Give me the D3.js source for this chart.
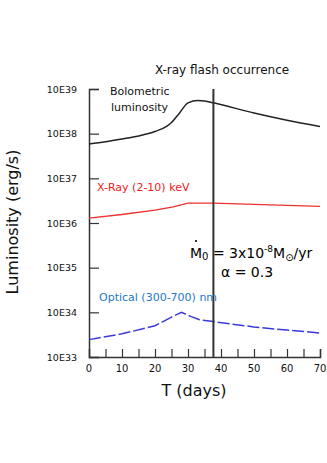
<!DOCTYPE html>
<html>
<head>
<meta charset="utf-8">
<script src="https://cdn.jsdelivr.net/npm/d3@7"></script>
<style>
  body { margin: 0; background: #fff; }
  svg text { font-family: "DejaVu Sans", sans-serif; }
</style>
</head>
<body>
<div id="chart"></div>
<script>
// days and luminosity (erg/s)
const bolDays = [0, 5, 10, 15, 20, 23.5, 25, 27.5, 30, 33, 35, 37.7, 50, 60, 70];
const bolLum = [5.9e37, 6.6e37, 7.6e37, 8.9e37, 1.12e38, 1.45e38, 1.78e38, 2.95e38, 4.9e38, 5.5e38, 5.4e38, 4.9e38, 2.9e38, 2.0e38, 1.45e38];

const xrayDays = [0, 10, 20, 25.5, 30, 37.7, 50, 70];
const xrayLum = [1.29e36, 1.55e36, 1.95e36, 2.3e36, 2.8e36, 2.8e36, 2.6e36, 2.35e36];

const optDays = [0, 10, 20, 25, 28, 31, 33.5, 37.7, 50, 60, 70];
const optLum = [2.45e33, 3.3e33, 5.0e33, 7.8e33, 1.0e34, 8.0e33, 6.8e33, 6.2e33, 4.7e33, 4.0e33, 3.45e33];

const flashDay = 37.7;
const yTicks = [1e33, 1e34, 1e35, 1e36, 1e37, 1e38, 1e39];
const yTickLabels = ["10E33", "10E34", "10E35", "10E36", "10E37", "10E38", "10E39"];
const xTicks = [0, 10, 20, 30, 40, 50, 60, 70];
const xMinorTicks = d3.range(5, 71, 5);

const W = 327, H = 463;
const margin = { top: 89, right: 7, bottom: 106, left: 89 };
const width = W - margin.left - margin.right;
const height = H - margin.top - margin.bottom;

const svg = d3.select("#chart").append("svg")
  .attr("width", W).attr("height", H);

const g = svg.append("g")
  .attr("transform", `translate(${margin.left},${margin.top})`);

const x = d3.scaleLinear().domain([0, 70]).range([0, width]);
const y = d3.scaleLog().domain([1e33, 1e39]).range([height, 0]);

// y axis
const yAxis = g.append("g")
  .call(d3.axisRight(y).tickValues(yTicks).tickSize(10)
    .tickFormat((d, i) => yTickLabels[i]))
  .call((a) => a.select(".domain").attr("stroke", "#333").attr("stroke-width", 1.5))
  .call((a) => a.selectAll(".tick line").attr("stroke", "#333").attr("stroke-width", 1.2));
yAxis.selectAll(".tick text")
  .attr("x", -12).attr("text-anchor", "end")
  .attr("font-size", 9.5).attr("fill", "#111");

// x axis
const xAxis = g.append("g")
  .attr("transform", `translate(0,${height})`)
  .call(d3.axisTop(x).tickValues(xMinorTicks).tickSize(8).tickFormat(""))
  .call((a) => a.select(".domain").attr("stroke", "#333").attr("stroke-width", 1.5))
  .call((a) => a.selectAll(".tick line").attr("stroke", "#333").attr("stroke-width", 1.2));

g.append("g").selectAll("text")
  .data(xTicks)
  .join("text")
  .attr("x", (d) => x(d))
  .attr("y", height + 15)
  .attr("text-anchor", "middle")
  .attr("font-size", 10)
  .attr("fill", "#111")
  .text((d) => d);

// curves
const smooth = d3.line()
  .x((d) => x(d[0]))
  .y((d) => y(d[1]))
  .curve(d3.curveMonotoneX);
const straight = d3.line()
  .x((d) => x(d[0]))
  .y((d) => y(d[1]));

g.append("path")
  .datum(d3.zip(bolDays, bolLum))
  .attr("fill", "none")
  .attr("stroke", "#222")
  .attr("stroke-width", 1.5)
  .attr("d", smooth);

g.append("path")
  .datum(d3.zip(xrayDays, xrayLum))
  .attr("fill", "none")
  .attr("stroke", "#f03030")
  .attr("stroke-width", 1.3)
  .attr("d", straight);

g.append("path")
  .datum(d3.zip(optDays, optLum))
  .attr("fill", "none")
  .attr("stroke", "#3a3ae0")
  .attr("stroke-width", 1.5)
  .attr("stroke-dasharray", "12,3")
  .attr("d", straight);

// flash line
g.append("line")
  .attr("x1", x(flashDay)).attr("x2", x(flashDay))
  .attr("y1", y(1e39)).attr("y2", height)
  .attr("stroke", "#333")
  .attr("stroke-width", 2);

// labels
svg.append("text")
  .attr("x", 222).attr("y", 74)
  .attr("text-anchor", "middle")
  .attr("font-size", 12).attr("fill", "#111")
  .text("X-ray flash occurrence");

svg.append("text")
  .attr("x", 110).attr("y", 95)
  .attr("font-size", 11).attr("fill", "#111")
  .text("Bolometric");
svg.append("text")
  .attr("x", 111).attr("y", 111)
  .attr("font-size", 11).attr("fill", "#111")
  .text("luminosity");

svg.append("text")
  .attr("x", 97).attr("y", 191)
  .attr("font-size", 11).attr("fill", "#f02020")
  .text("X-Ray  (2-10) keV");

svg.append("text")
  .attr("x", 99).attr("y", 301)
  .attr("font-size", 11).attr("fill", "#1e78c8")
  .text("Optical (300-700) nm");

// accretion annotation
const ann = svg.append("text")
  .attr("x", 190).attr("y", 258)
  .attr("font-size", 14).attr("fill", "#000");
ann.append("tspan").text("M");
ann.append("tspan").attr("font-size", 10).attr("dy", 2).text("0");
ann.append("tspan").attr("dy", -2).text(" = 3x10");
ann.append("tspan").attr("font-size", 9).attr("dy", -6).text("-8");
ann.append("tspan").attr("dy", 6).text("M");
ann.append("tspan").attr("font-size", 10).attr("dy", 3).text("\u2299");
ann.append("tspan").attr("dy", -3).text("/yr");
// dot over M
svg.append("circle")
  .attr("cx", 196).attr("cy", 241)
  .attr("r", 1.1)
  .attr("fill", "#000");

svg.append("text")
  .attr("x", 221).attr("y", 277)
  .attr("font-size", 14).attr("fill", "#000")
  .text("\u03B1 = 0.3");

// axis titles
svg.append("text")
  .attr("transform", "translate(18,222) rotate(-90)")
  .attr("text-anchor", "middle")
  .attr("font-size", 16).attr("fill", "#111")
  .text("Luminosity (erg/s)");

svg.append("text")
  .attr("x", 194).attr("y", 396)
  .attr("text-anchor", "middle")
  .attr("font-size", 16).attr("fill", "#111")
  .text("T (days)");
</script>
</body>
</html>
